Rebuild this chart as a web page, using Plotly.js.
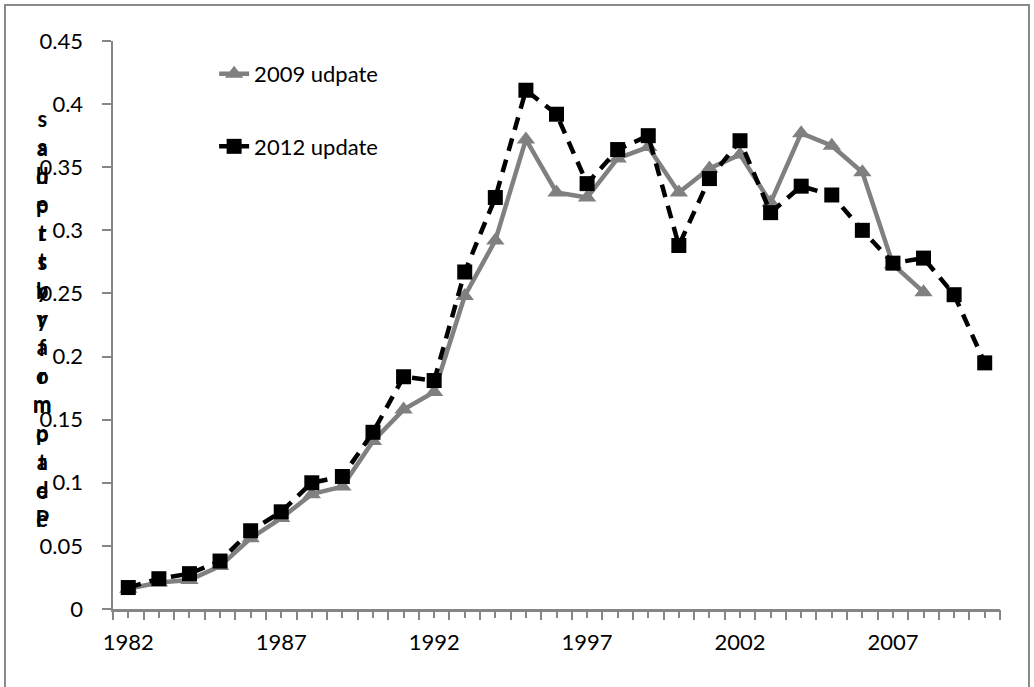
<!DOCTYPE html>
<html>
<head>
<meta charset="utf-8">
<script src="https://cdn.plot.ly/plotly-3.0.1.min.js"></script>
<style>
  html, body { margin: 0; padding: 0; background: #ffffff; }
  #wrap { position: relative; width: 1034px; height: 687px; overflow: hidden; }
  #frame { position: absolute; left: 4px; top: 4px; width: 1026px; height: 700px;
           border: 2px solid #898989; box-sizing: border-box; pointer-events: none; }
  #chart { position: absolute; left: 0; top: 0; width: 1034px; height: 687px; }
</style>
</head>
<body>
<div id="wrap">
  <div id="chart"></div>
  <div id="frame"></div>
</div>
<script>
// Years on the category axis
const years = [1982, 1983, 1984, 1985, 1986, 1987, 1988, 1989, 1990, 1991,
               1992, 1993, 1994, 1995, 1996, 1997, 1998, 1999, 2000, 2001,
               2002, 2003, 2004, 2005, 2006, 2007, 2008, 2009, 2010];

// 2009 update series (runs to 2008)
const update2009 = [0.016, 0.021, 0.023, 0.034, 0.056, 0.072, 0.091, 0.097, 0.133, 0.158,
                    0.172, 0.248, 0.292, 0.372, 0.330, 0.326, 0.357, 0.366, 0.330, 0.349,
                    0.360, 0.322, 0.377, 0.367, 0.346, 0.273, 0.251];

// 2012 update series (runs to 2010)
const update2012 = [0.017, 0.024, 0.028, 0.038, 0.062, 0.077, 0.100, 0.105, 0.140, 0.184,
                    0.181, 0.267, 0.326, 0.411, 0.392, 0.337, 0.364, 0.375, 0.288, 0.341,
                    0.371, 0.314, 0.335, 0.328, 0.300, 0.274, 0.278, 0.249, 0.195];

const seriesNames = ['2009 udpate', '2012 update'];

// Labelled years and y tick labels
const xLabelYears = [1982, 1987, 1992, 1997, 2002, 2007];
const yTickVals = [0, 0.05, 0.1, 0.15, 0.2, 0.25, 0.3, 0.35, 0.4, 0.45];
const yTickText = ['0', '0.05', '0.1', '0.15', '0.2', '0.25', '0.3', '0.35', '0.4', '0.45'];

// Stacked y-axis title glyphs, top to bottom
const yTitleGlyphs = ['s','s','a','b','d','e','p','r','t','t','s','y','b','y','r',
                      'a','f','r','o','m','m','p','o','t','a','d','e','e','P'];

const FONT = 'Lato, "Open Sans", sans-serif';
const AXIS_GREY = '#868686';

const traces = [
  {
    x: years.slice(0, update2009.length),
    y: update2009,
    name: seriesNames[0],
    legendgroup: 'a',
    type: 'scatter',
    mode: 'lines+markers',
    line: { color: '#808080', width: 4.5 },
    marker: { symbol: 'triangle-up', size: 16, color: '#808080' },
    hoverinfo: 'x+y'
  },
  {
    x: years.slice(0, update2012.length),
    y: update2012,
    name: seriesNames[1],
    legendgroup: 'b',
    type: 'scatter',
    mode: 'lines+markers',
    line: { color: '#000000', width: 4.5, dash: '13px,9px' },
    marker: { symbol: 'square', size: 15, color: '#000000' },
    hoverinfo: 'x+y'
  },
  {
    // carrier for the boundary tick axis
    x: [], y: [], xaxis: 'x2', yaxis: 'y',
    type: 'scatter', mode: 'markers', showlegend: false, hoverinfo: 'skip'
  }
];

// Split the stacked title into two interleaved columns so the glyphs overlap
const colA = yTitleGlyphs.filter((_, i) => i % 2 === 0).join('<br>');
const colB = yTitleGlyphs.filter((_, i) => i % 2 === 1).join('<br>');
const titleFont = { family: FONT, size: 22, color: '#000000', weight: 'bold' };

const layout = {
  width: 1034,
  height: 687,
  margin: { l: 113, r: 34, t: 41, b: 78 },
  paper_bgcolor: 'rgba(0,0,0,0)',
  plot_bgcolor: '#ffffff',
  font: { family: FONT, size: 22, color: '#000000' },
  showlegend: true,
  legend: {
    x: 0.114, y: 0.979, xanchor: 'left', yanchor: 'top',
    bgcolor: 'rgba(0,0,0,0)',
    font: { family: FONT, size: 22, color: '#000000' },
    tracegroupgap: 41,
    traceorder: 'grouped'
  },
  xaxis: {
    type: 'linear',
    range: [1981.5, 2010.5],
    tickmode: 'array',
    tickvals: xLabelYears,
    ticktext: xLabelYears.map(String),
    ticks: 'outside',
    ticklen: 6,
    tickwidth: 2,
    tickcolor: AXIS_GREY,
    ticklabelstandoff: 6,
    minor: { tickmode: 'linear', tick0: 1982, dtick: 1, ticks: 'outside',
             ticklen: 6, tickwidth: 2, tickcolor: AXIS_GREY, showgrid: false },
    showline: true,
    linecolor: AXIS_GREY,
    linewidth: 2.5,
    showgrid: false,
    zeroline: false,
    fixedrange: true,
    tickfont: { family: FONT, size: 22, color: '#000000' }
  },
  xaxis2: {
    type: 'linear',
    range: [1981.5, 2010.5],
    overlaying: 'x',
    anchor: 'y',
    side: 'bottom',
    tickmode: 'linear',
    tick0: 1981.5,
    dtick: 1,
    ticks: 'outside',
    ticklen: 10,
    tickwidth: 2,
    tickcolor: AXIS_GREY,
    showticklabels: false,
    showline: false,
    showgrid: false,
    zeroline: false,
    fixedrange: true
  },
  yaxis: {
    range: [0, 0.45],
    tickmode: 'array',
    tickvals: yTickVals,
    ticktext: yTickText,
    ticks: 'outside',
    ticklen: 9,
    tickwidth: 2,
    tickcolor: AXIS_GREY,
    ticklabelstandoff: 14,
    showline: true,
    linecolor: AXIS_GREY,
    linewidth: 2.5,
    showgrid: false,
    zeroline: false,
    fixedrange: true,
    tickfont: { family: FONT, size: 22, color: '#000000' }
  },
  annotations: [
    { text: colA, xref: 'paper', yref: 'paper', x: -0.080, y: 0.5,
      xanchor: 'center', yanchor: 'middle', showarrow: false, align: 'center',
      font: titleFont, yshift: 7 },
    { text: colB, xref: 'paper', yref: 'paper', x: -0.080, y: 0.5,
      xanchor: 'center', yanchor: 'middle', showarrow: false, align: 'center',
      font: titleFont, yshift: -7 }
  ]
};

Plotly.newPlot('chart', traces, layout, { displayModeBar: false, staticPlot: true });
</script>
</body>
</html>
